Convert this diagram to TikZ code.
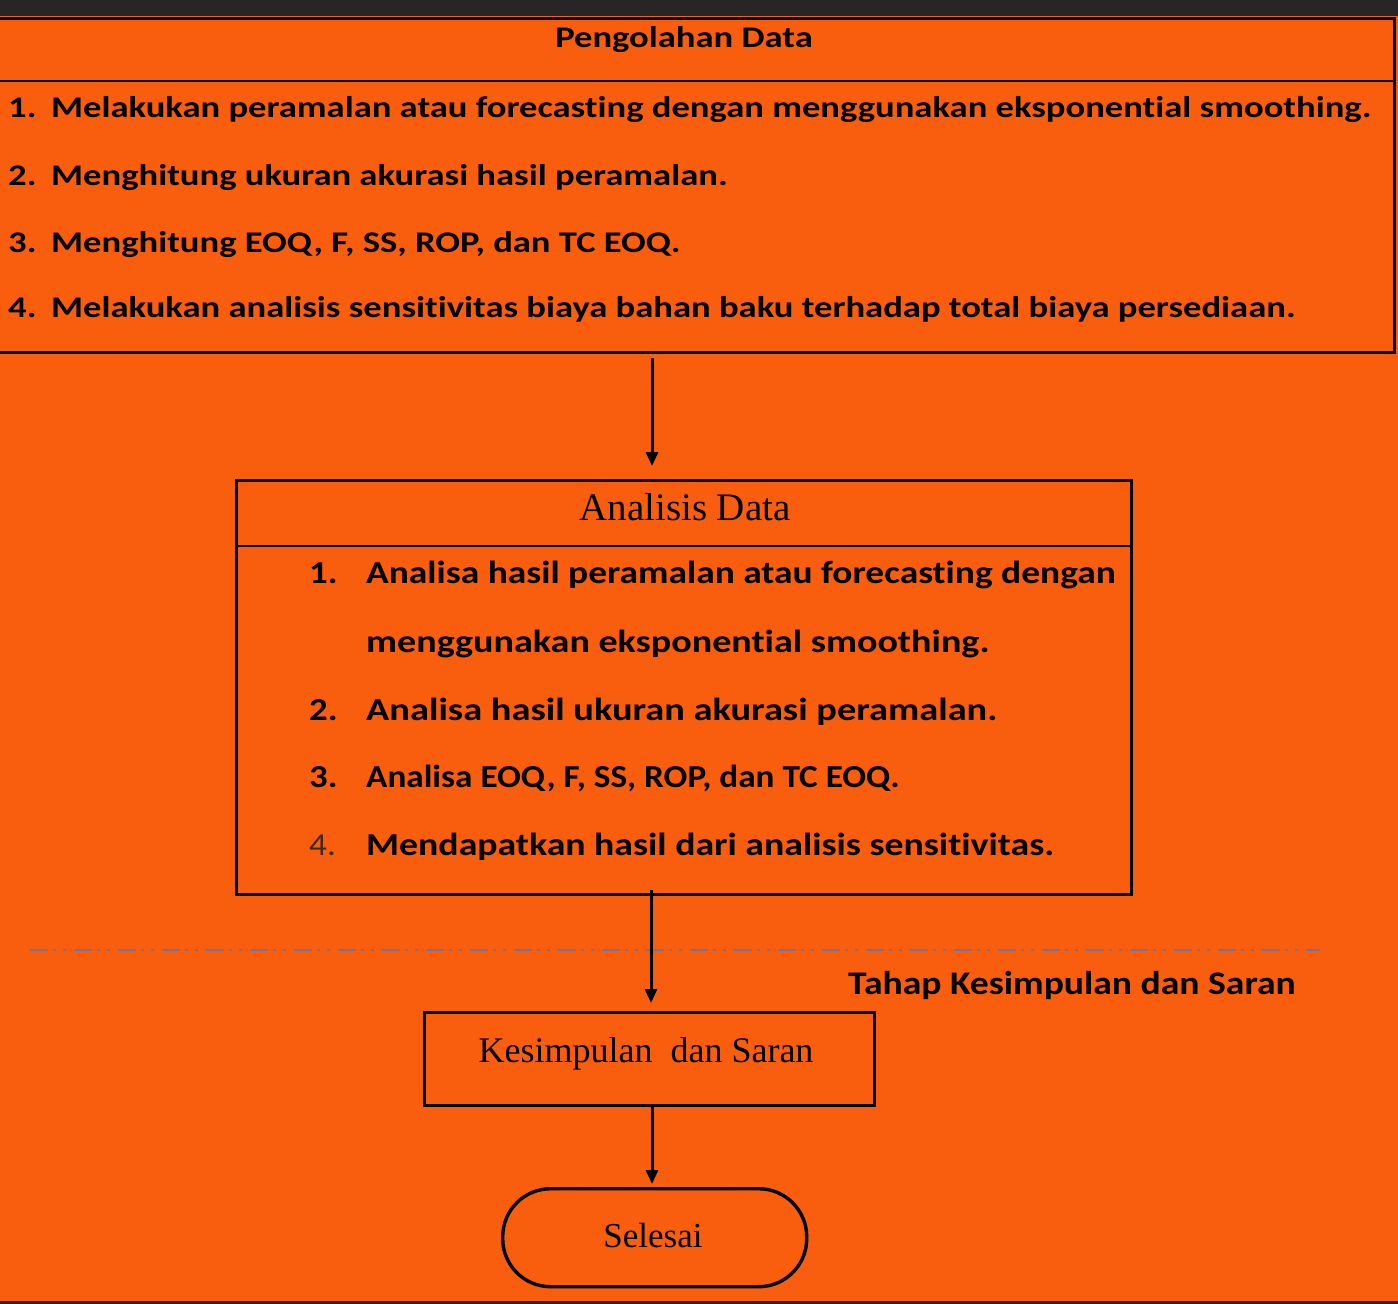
\documentclass[tikz,border=0pt]{standalone}
\usepackage{fontspec}
\setmainfont{Liberation Serif}
\newfontfamily\calb[BoldFont={* Bold}, RawFeature=-liga]{Carlito}
\usetikzlibrary{arrows.meta}
\definecolor{bg}{HTML}{F95E0F}
\definecolor{band}{HTML}{262626}
\definecolor{dashc}{HTML}{76709C}
\definecolor{numgray}{HTML}{3A2A20}
\newcommand\sx[2]{\scalebox{#1}[1]{#2}}
\tikzset{
  box/.style={draw=black, line width=3.4pt, fill=bg, inner sep=0pt},
  divider/.style={draw=black, line width=2.6pt},
  toptext/.style={inner sep=0pt, font=\calb\bfseries\fontsize{30}{36}\selectfont},
  anatext/.style={inner sep=0pt, font=\calb\bfseries\fontsize{32}{38}\selectfont},
  seriftext/.style={inner sep=0pt, font=\fontsize{36}{40}\selectfont},
  arr/.style={draw=black, line width=3pt, -{Triangle[length=14pt,width=12pt]}},
}
\begin{document}
\begin{tikzpicture}[x=1pt,y=-1pt]
\useasboundingbox (0,0) rectangle (1398,1304);
\fill[bg] (0,0) rectangle (1398,1304);
\fill[band] (0,0) rectangle (1398,16);
\fill[band] (0,1301) rectangle (1398,1304);
% Pengolahan Data box
\node[box, minimum width=1399pt, minimum height=334pt, anchor=north west] (peng) at (-6,17) {};
\draw[divider] (peng.west |- 0,81) -- (peng.east |- 0,81);
\node[toptext, anchor=base] (pengT) at (684,47) {\sx{1.22}{Pengolahan Data}};
\node[toptext, anchor=base west] (p1n) at (8,117) {\sx{1.22}{1.}};
\node[toptext, anchor=base west] (p1) at (51,117) {\sx{1.22}{Melakukan peramalan atau forecasting dengan menggunakan eksponential smoothing.}};
\node[toptext, anchor=base west] (p2n) at (8,185) {\sx{1.22}{2.}};
\node[toptext, anchor=base west] (p2) at (51,185) {\sx{1.22}{Menghitung ukuran akurasi hasil peramalan.}};
\node[toptext, anchor=base west] (p3n) at (8,252) {\sx{1.22}{3.}};
\node[toptext, anchor=base west] (p3) at (51,252) {\sx{1.22}{Menghitung EOQ, F, SS, ROP, dan TC EOQ.}};
\node[toptext, anchor=base west] (p4n) at (8,317) {\sx{1.22}{4.}};
\node[toptext, anchor=base west] (p4) at (51,317) {\sx{1.22}{Melakukan analisis sensitivitas biaya bahan baku terhadap total biaya persediaan.}};
% Analisis Data box
\node[box, minimum width=895pt, minimum height=414pt, anchor=north west] (ana) at (235,479) {};
\draw[divider] (ana.west |- 0,546) -- (ana.east |- 0,546);
\node[seriftext, font=\fontsize{39}{44}\selectfont, anchor=base] (anaT) at (685,520) {Analisis Data};
\node[anatext, anchor=base west] (a1n) at (309,583) {\sx{1.15}{1.}};
\node[anatext, anchor=base west] (a1) at (366,583) {\sx{1.17}{Analisa hasil peramalan atau forecasting dengan}};
\node[anatext, anchor=base west] (a1b) at (366,652) {\sx{1.19}{menggunakan eksponential smoothing.}};
\node[anatext, anchor=base west] (a2n) at (309,720) {\sx{1.15}{2.}};
\node[anatext, anchor=base west] (a2) at (366,720) {\sx{1.2}{Analisa hasil ukuran akurasi peramalan.}};
\node[anatext, anchor=base west] (a3n) at (309,787) {\sx{1.15}{3.}};
\node[anatext, anchor=base west] (a3) at (366,787) {\sx{1.1}{Analisa EOQ, F, SS, ROP, dan TC EOQ.}};
\node[inner sep=0pt, font=\calb\fontsize{32}{38}\selectfont, text=numgray, anchor=base west] (a4n) at (309,855) {\sx{1.1}{4.}};
\node[anatext, anchor=base west] (a4) at (366,855) {\sx{1.18}{Mendapatkan hasil dari analisis sensitivitas.}};
% dashed separator
\coordinate (dl) at (30,950);
\coordinate (dr) at (1320,950);
\draw[dashc, line width=2.8pt, dash pattern=on 18pt off 5pt on 3pt off 7pt on 3pt off 8pt] (dl) -- (dr);
\node[inner sep=0pt, font=\calb\bfseries\fontsize{33}{38}\selectfont, anchor=base west] (tahap) at (848,994) {\sx{1.14}{Tahap Kesimpulan dan Saran}};
% Kesimpulan box
\node[box, minimum width=450pt, minimum height=93pt, anchor=north west] (kes) at (423,1011) {};
\node[seriftext, anchor=base] (kesT) at (646,1062) {Kesimpulan\ \ dan Saran};
% Selesai
\node[box, rounded corners=48pt, minimum width=304pt, minimum height=98pt, anchor=north west] (sel) at (501,1187) {};
\node[seriftext, font=\fontsize{35}{40}\selectfont, anchor=base] (selT) at (653,1247) {Selesai};
% arrows
\coordinate (a1s) at (652,358);
\draw[arr, shorten >=13pt] (a1s) -- (a1s |- ana.north);
\coordinate (a2s) at (651,890);
\draw[arr, shorten >=8pt] (a2s) -- (a2s |- kes.north);
\coordinate (a3s) at (652,1104);
\draw[arr, shorten >=3pt] (a3s) -- (a3s |- sel.north);
\end{tikzpicture}
\end{document}
